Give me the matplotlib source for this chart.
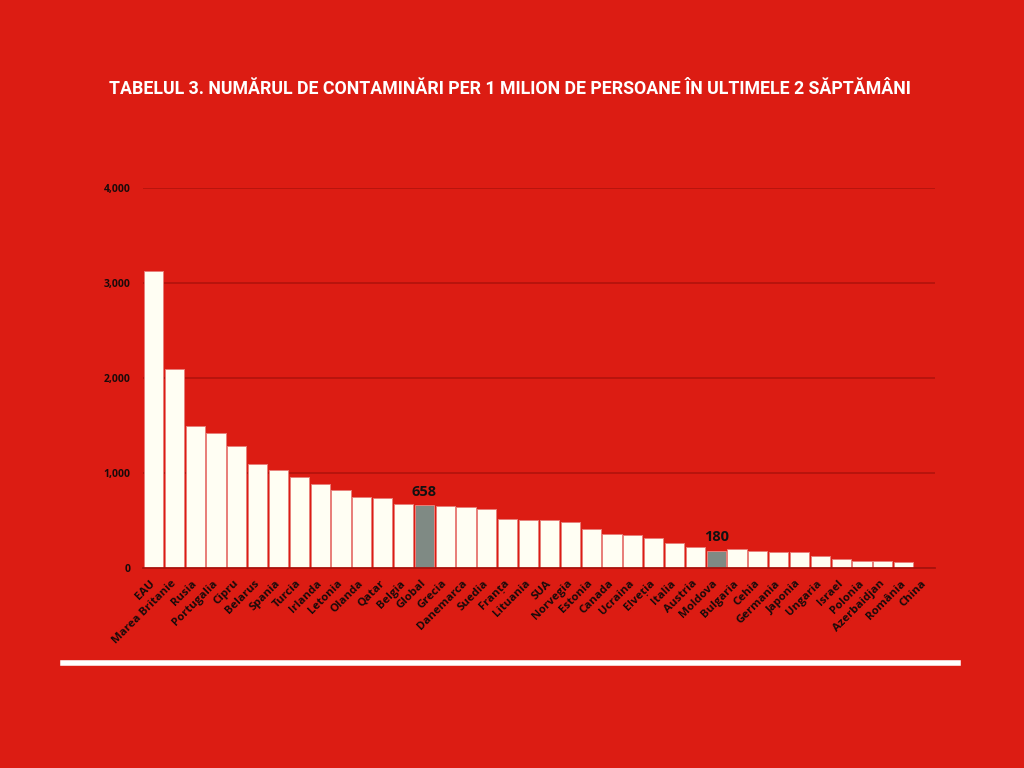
import matplotlib
matplotlib.use('Agg')
import numpy as np
import matplotlib.pyplot as plt
from matplotlib.ticker import FuncFormatter

# Data (cases per 1 million, last 2 weeks)
tari = ['EAU', 'Marea Britanie', 'Rusia', 'Portugalia', 'Cipru', 'Belarus',
        'Spania', 'Turcia', 'Irlanda', 'Letonia', 'Olanda', 'Qatar', 'Belgia',
        'Global', 'Grecia', 'Danemarca', 'Suedia', 'Franța', 'Lituania', 'SUA',
        'Norvegia', 'Estonia', 'Canada', 'Ucraina', 'Elveția', 'Italia',
        'Austria', 'Moldova', 'Bulgaria', 'Cehia', 'Germania', 'Japonia',
        'Ungaria', 'Israel', 'Polonia', 'Azerbaidjan', 'România', 'China']
valori = [3128, 2092, 1497, 1420, 1282, 1100, 1032, 956, 886, 819, 745, 735,
          672, 658, 652, 640, 619, 518, 510, 506, 484, 408, 358, 350, 316, 268,
          218, 180, 195, 176, 173, 168, 128, 100, 76, 69, 58, 5]
evidentiate = ['Global', 'Moldova']
y_ticks = [0, 1000, 2000, 3000, 4000]

bg = '#DC1C13'
fill = '#FFFEF3'
gri = '#7F8A84'

fig = plt.figure(figsize=(10.24, 7.68), dpi=100, facecolor=bg)
ax = fig.add_axes([143/1024, 200/768, (935-143)/1024, 380/768])
ax.set_facecolor(bg)

x = np.arange(len(tari))
culori = [gri if t in evidentiate else fill for t in tari]
bars = ax.bar(x, valori, width=0.92, color=culori, edgecolor='#E8807A',
              linewidth=0.7, zorder=3)

for t, v, b in zip(tari, valori, bars):
    if t in evidentiate:
        ax.text(b.get_x() + b.get_width()/2, v + 70, str(v), ha='center',
                va='bottom', fontsize=10.5, fontweight='bold', color='#111111',
                family='Open Sans', zorder=4)

ax.set_xlim(-0.5, len(tari) - 0.5)
ax.set_ylim(0, 4000)
ax.set_yticks(y_ticks)
ax.yaxis.set_major_formatter(FuncFormatter(lambda v, p: f'{int(v):,}'))
ax.set_xticks(x)
ax.set_xticklabels(tari, rotation=45, ha='right', va='center',
                   rotation_mode='anchor')
for lab in ax.get_xticklabels():
    lab.set_family('Open Sans')
    lab.set_fontweight('bold')
    lab.set_fontsize(8.2)
    lab.set_color('#1a0a0a')
for lab in ax.get_yticklabels():
    lab.set_family('Open Sans')
    lab.set_fontweight('bold')
    lab.set_fontsize(7.5)
    lab.set_color('#1a0a0a')
ax.tick_params(axis='both', length=0)
ax.tick_params(axis='y', pad=9)
ax.tick_params(axis='x', pad=10)

ax.grid(axis='y', color='#B5140D', linewidth=1.3, zorder=0)
for s in ['top', 'right', 'left']:
    ax.spines[s].set_visible(False)
ax.spines['bottom'].set_color('#A8120C')
ax.spines['bottom'].set_linewidth(1.3)
ax.spines['bottom'].set_zorder(5)

fig.text(510/1024, 1 - 89/768,
         'TABELUL 3. NUMĂRUL DE CONTAMINĂRI PER 1 MILION DE PERSOANE ÎN ULTIMELE 2 SĂPTĂMÂNI',
         ha='center', va='center', color='white', fontsize=12.8,
         fontweight='bold', family=['Roboto', 'DejaVu Sans'])

# white separator line at the bottom
fig.add_artist(plt.Line2D([63/1024, 958/1024], [1 - 663/768, 1 - 663/768],
                          color='white', linewidth=4, transform=fig.transFigure))

fig.savefig('out.png', dpi=100, facecolor=bg)
